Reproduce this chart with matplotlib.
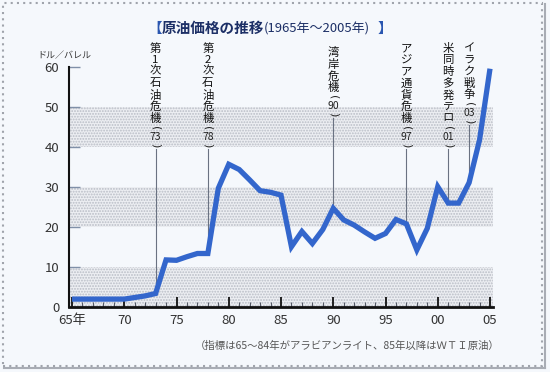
import matplotlib
matplotlib.use("Agg")
import matplotlib.pyplot as plt
import matplotlib.transforms as mtransforms
from matplotlib.patches import Rectangle
from matplotlib.ticker import MultipleLocator
from matplotlib.lines import Line2D

plt.rcParams['font.family'] = ['Noto Sans CJK JP', 'DejaVu Sans']
plt.rcParams['hatch.linewidth'] = 0.9

# data
years = list(range(1965, 2006))
prices = [1.9, 1.9, 1.9, 1.9, 1.9, 1.9, 2.3, 2.7, 3.3, 11.7,
          11.6, 12.5, 13.3, 13.3, 29.6, 35.6, 34.3, 31.7, 29.0, 28.6,
          27.9, 15.0, 18.8, 15.8, 19.3, 24.6, 21.7, 20.4, 18.7, 17.1,
          18.3, 21.8, 20.7, 14.2, 19.6, 30.0, 25.9, 25.9, 31.0, 41.7,
          59.5]
xtick_years = [1965, 1970, 1975, 1980, 1985, 1990, 1995, 2000, 2005]
xtick_labels = ['65年', '70', '75', '80', '85', '90', '95', '00', '05']
yticks = [0, 10, 20, 30, 40, 50, 60]

event_years = [1973, 1978, 1990, 1997, 2001, 2003]
event_labels = ['第1次石油危機', '第2次石油危機', '湾岸危機', 'アジア通貨危機', '米同時多発テロ', 'イラク戦争']
event_nums = ['73', '78', '90', '97', '01', '03']
event_top = [48.3, 48.3, 52.8, 48.3, 48.3, 48.3]   # pixel y of first character

BG = '#f5f8fc'
LINE = '#3366cc'
W, H = 550, 372

fig = plt.figure(figsize=(5.5, 3.72), dpi=100, facecolor=BG)


def fy(py):
    return 1 - py / H


# axes placed in pixels: spine at x=69, right end 493, y 0 -> 306.7, 60 -> 66.7
ax = fig.add_axes([69 / W, fy(306.7), (493 - 69) / W, 240 / H])
ax.set_facecolor(BG)
ax.set_xlim(1965 - 3 / 10.45, 2005 + 3 / 10.45)
ax.set_ylim(0, 60)

# dotted bands
for lo in (0, 20, 40):
    ax.axhspan(lo, lo + 10, facecolor='#eceef2', edgecolor='#b9bdc6',
               hatch='......', linewidth=0, zorder=0)

ax.plot(years, prices, color=LINE, linewidth=3.8, solid_joinstyle='miter',
        solid_capstyle='butt', zorder=3)

for s in ('top', 'right'):
    ax.spines[s].set_visible(False)
ax.spines['bottom'].set_linewidth(2)
ax.spines['bottom'].set_color('#111111')
ax.spines['left'].set_linewidth(1.5)
ax.spines['left'].set_color('#111111')

ax.set_xticks(xtick_years)
ax.set_xticklabels(xtick_labels)
ax.xaxis.set_minor_locator(MultipleLocator(1))
ax.tick_params(axis='x', which='major', direction='in', length=7.5, width=1.3,
               color='#111111', labelsize=9.5, labelcolor='#333333', pad=5)
ax.tick_params(axis='x', which='minor', direction='in', length=3.5, width=0.8,
               color='#555a66')
ax.set_yticks(yticks)
ax.tick_params(axis='y', direction='in', length=8, width=1, color='#8090a8',
               labelsize=9.5, labelcolor='#333333', pad=7)

# event annotations
trans = mtransforms.blended_transform_factory(ax.transData, fig.transFigure)
step = 11.7
for yr, lab, num, top in zip(event_years, event_labels, event_nums, event_top):
    for i, ch in enumerate(lab):
        ax.text(yr, fy(top + i * step), ch, transform=trans, ha='center',
                va='center', fontsize=8.2, color='#111111')
    ny = top + (len(lab) - 1) * step + 18
    ax.text(yr, fy(ny), num, transform=trans, ha='center', va='center',
            fontsize=7.5, color='#222222')
    ax.text(yr, fy(ny - 8.5), '(', transform=trans, ha='center', va='center',
            rotation=270, fontsize=8, color='#222222', family='DejaVu Sans')
    ax.text(yr, fy(ny + 8.5), ')', transform=trans, ha='center', va='center',
            rotation=270, fontsize=8, color='#222222', family='DejaVu Sans')
    val = prices[years.index(yr)]
    ytop = (306.7 - (ny + 12)) / 4.0
    ax.plot([yr, yr], [ytop, val], color='#6a7282', linewidth=0.8,
            clip_on=False, zorder=2)

# title
fig.text(162 / W, fy(28), '【', color='#2a56b0', fontsize=10.5, ha='right',
         va='center', weight='bold')
fig.text(162 / W, fy(28), '原油価格の推移', color='#1c2f66', fontsize=10.5,
         ha='left', va='center', weight='bold')
fig.text(264 / W, fy(29), '(1965年～2005年)', color='#1c2f66', fontsize=9.4,
         ha='left', va='center')
fig.text(378 / W, fy(28), '】', color='#2a56b0', fontsize=10.5, ha='left',
         va='center', weight='bold')

fig.text(37 / W, fy(56), 'ドル／バレル', fontsize=6.5, color='#333333',
         ha='left', va='center')
fig.text(500 / W, fy(345.5), '（指標は65～84年がアラビアンライト、85年以降はＷＴＩ原油）',
         fontsize=7.5, color='#555555', ha='right', va='center')

# dotted frame with shadow
fig.patches.append(Rectangle((3 / W, fy(366)), 539 / W, 363 / H,
                             transform=fig.transFigure, fill=False,
                             edgecolor='#a0a4ac', linestyle=(0, (1, 2)),
                             linewidth=1.5))
fig.lines.append(Line2D([545 / W, 545 / W], [fy(368), fy(4)],
                        transform=fig.transFigure, color='#a8acb4', linewidth=1.5))
fig.lines.append(Line2D([4 / W, 545 / W], [fy(368), fy(368)],
                        transform=fig.transFigure, color='#a8acb4', linewidth=1.5))

fig.savefig('out.png', dpi=100, facecolor=BG)
